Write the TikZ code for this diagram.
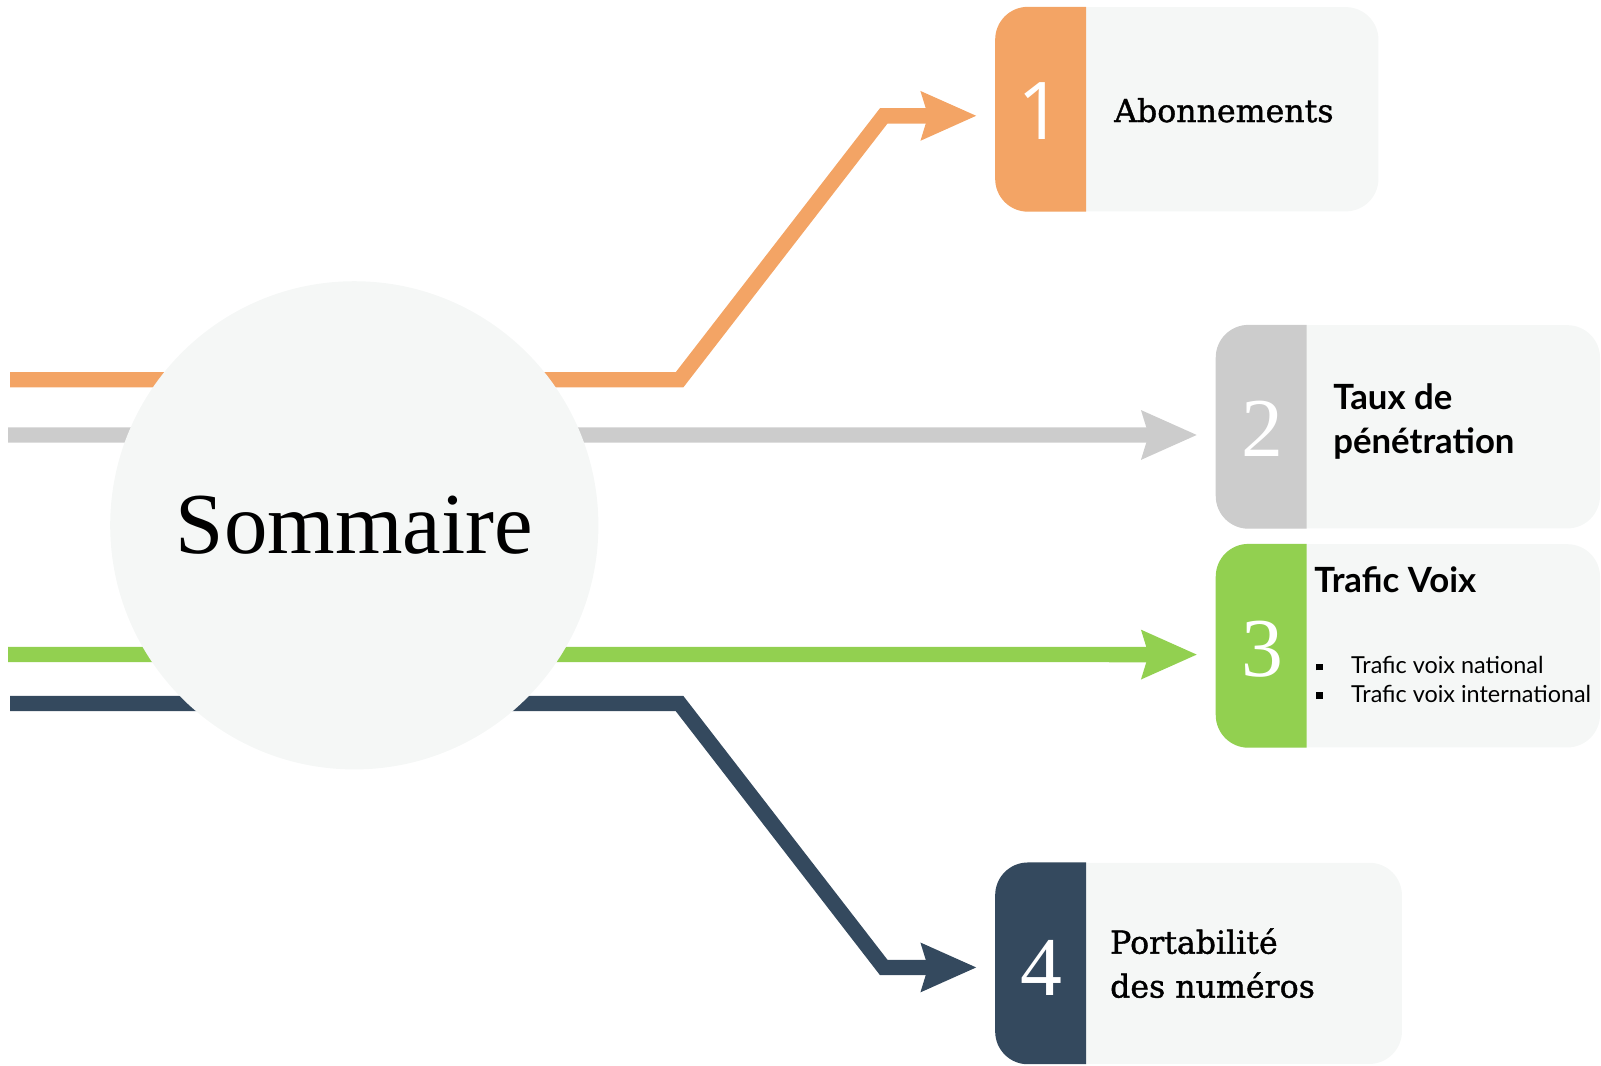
\documentclass[tikz,border=0pt]{standalone}
\usepackage{fontspec}
\setmainfont{Liberation Serif}
\newfontfamily\latofont{Lato}
\newfontfamily\cardserif[FakeBold=1.2]{DejaVu Serif}
\newfontfamily\opensans{Open Sans}
\usetikzlibrary{arrows.meta}

\definecolor{orangeline}{HTML}{F3A465}
\definecolor{greyline}{HTML}{CCCCCC}
\definecolor{greenline}{HTML}{92D050}
\definecolor{navyline}{HTML}{34495E}
\definecolor{cardbg}{HTML}{F5F7F6}

\tikzset{
  track/.style={line width=0.375cm, line join=miter,
    -{Stealth[length=1.34cm, width=1.14cm, inset=0.15cm]}},
  card/.style={fill=cardbg, rounded corners=0.8cm, inner sep=0pt},
  digit/.style={text=white, inner sep=0pt},
  cardtext/.style={anchor=base west, inner sep=0pt}
}

\begin{document}
\begin{tikzpicture}[x=0.025cm, y=-0.025cm]
\useasboundingbox (0,0) rectangle (1568,1044);

% Cards
\node[card, minimum width=9.375cm, minimum height=5cm] (box1) at (1162.5,107) {};
\node[card, minimum width=9.4cm, minimum height=4.975cm] (box2) at (1379,418) {};
\node[card, minimum width=9.4cm, minimum height=4.975cm] (box3) at (1379,632.5) {};
\node[card, minimum width=9.95cm, minimum height=4.925cm] (box4) at (1174,943.5) {};

% Coloured bands
\foreach \b/\c in {box1/orangeline, box2/greyline, box3/greenline, box4/navyline} {
  \begin{scope}
    \clip (\b.north west) rectangle ([xshift=2.225cm]\b.south west);
    \fill[\c, rounded corners=0.8cm] (\b.north west) rectangle (\b.south east);
  \end{scope}
}

% Start points of the lines
\coordinate (s1) at (10,372);
\coordinate (s2) at (8,426);
\coordinate (s3) at (8,641);
\coordinate (s4) at (10,689);

% Lines
\draw[track, orangeline] (s1) -- (665.5,372) -- (865.5,113.5) -- ([xshift=-0.45cm, yshift=-0.16cm]box1.west);
\draw[track, greyline] (s2) -- ([xshift=-0.45cm, yshift=-0.2cm]box2.west);
\draw[track, greenline] (s3) -- ([xshift=-0.45cm, yshift=-0.215cm]box3.west);
\draw[track, navyline] (s4) -- (665.5,689) -- (865.5,947.5) -- ([xshift=-0.45cm, yshift=-0.1cm]box4.west);

% Circle
\node[circle, fill=cardbg, minimum size=11.95cm, inner sep=0pt] (sommaire) at (347,514.5)
  {\fontsize{60.5}{70}\selectfont Sommaire};

% Numbers
\node[digit] (n1) at (1019,109) {\opensans\fontsize{55.5}{60}\selectfont 1};
\node[digit] (n2) at (1236,420) {\fontsize{58.3}{64}\selectfont 2};
\node[digit] (n3) at (1236,635.5) {\fontsize{58.3}{64}\selectfont 3};
\node[digit] (n4) at (1020,948) {\fontsize{58.3}{64}\selectfont 4};

% Texts
\node[cardtext] (t1) at (1091,119.5) {\cardserif\fontsize{22}{30.6}\selectfont Abonnements};
\node[cardtext] (t2) at (1305.5,401) {\latofont\bfseries\fontsize{24.2}{30.6}\selectfont
  \begin{tabular}[t]{@{}l@{}}Taux de\\ pénétration\end{tabular}};
\node[cardtext] (t3) at (1287,580) {\latofont\bfseries\fontsize{24.2}{30.6}\selectfont Trafic Voix};
\node[cardtext] (t3list) at (1289,660) {\latofont\fontsize{16.3}{19.9}\selectfont
  \begin{tabular}[t]{@{}l@{}}
  \makebox[24.2pt][l]{\rule[2.4pt]{4.6pt}{4.6pt}}Trafic voix national\\
  \makebox[24.2pt][l]{\rule[2.4pt]{4.6pt}{4.6pt}}Trafic voix international
  \end{tabular}};
\node[cardtext] (t4) at (1087,934) {\cardserif\fontsize{22}{30.6}\selectfont
  \begin{tabular}[t]{@{}l@{}}Portabilité\\ des numéros\end{tabular}};

\end{tikzpicture}
\end{document}
